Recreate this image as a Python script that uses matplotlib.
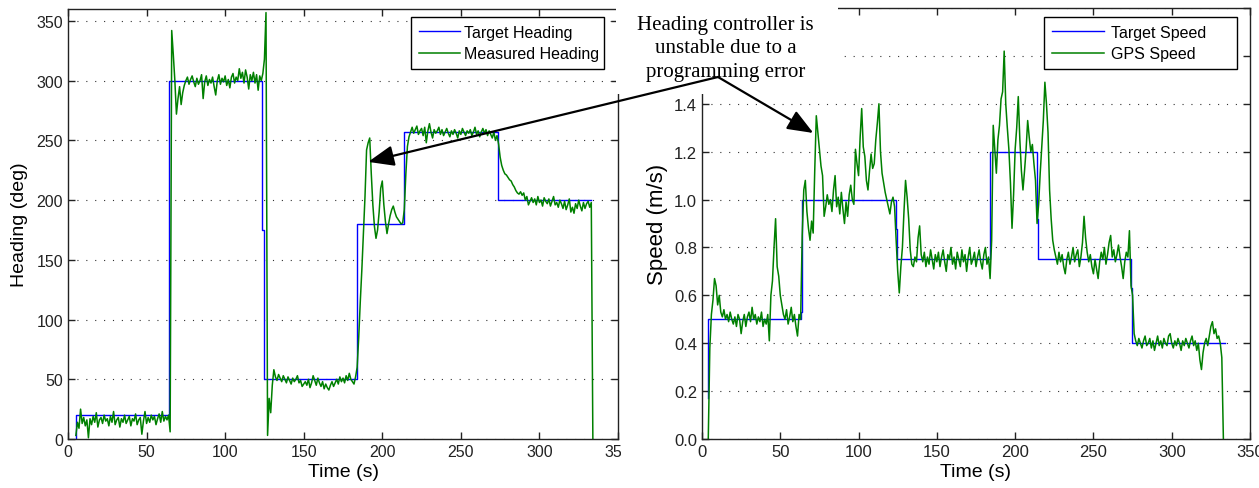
import matplotlib
matplotlib.use('Agg')
import matplotlib.pyplot as plt
import numpy as np
from matplotlib.patches import Rectangle
from matplotlib.text import Annotation

plt.rcParams['font.family'] = 'Liberation Sans'

# heading test: commanded steps (deg) and compass reading sampled once a second
target_heading_t = [4.8, 4.9, 64.3, 123.6, 124.6, 183.7, 214.0, 273.5, 333.0]
target_heading = [0, 20, 300, 175, 50, 180, 257, 200, 200]

heading_t0 = 5  # first compass sample (s)
measured_heading = [
    3, 14, 9, 25, 13, 18, 11, 16, 1, 17,
    12, 19, 14, 22, 10, 16, 18, 13, 20, 15,
    17, 11, 19, 14, 23, 12, 16, 18, 10, 17,
    14, 20, 13, 16, 19, 11, 17, 15, 21, 12,
    16, 18, 4, 15, 23, 13, 18, 14, 20, 16,
    19, 12, 17, 21, 14, 23, 15, 19, 16, 20,
    6, 342, 322, 300, 272, 285, 295, 280, 290, 296,
    300, 303, 297, 301, 304, 299, 295, 302, 297, 300,
    305, 285, 299, 304, 296, 301, 298, 303, 295, 288,
    300, 305, 297, 302, 299, 304, 296, 301, 294, 303,
    306, 298, 303, 300, 310, 302, 307, 298, 309, 303,
    293, 305, 300, 307, 298, 305, 292, 304, 300, 306,
    318, 357, 3, 34, 22, 45, 58, 52, 49, 54,
    51, 48, 53, 50, 47, 52, 49, 46, 51, 48,
    50, 53, 47, 49, 44, 46, 48, 45, 50, 43,
    47, 53, 49, 45, 51, 47, 44, 48, 42, 46,
    43, 41, 45, 48, 44, 47, 50, 46, 52, 48,
    51, 47, 53, 49, 55, 50, 48, 46, 52, 60,
    85, 115, 142, 172, 203, 242, 248, 252, 222, 196,
    178, 168, 175, 190, 210, 216, 196, 182, 172, 180,
    187, 192, 195, 190, 186, 184, 182, 180, 181, 192,
    222, 245, 253, 257, 261, 256, 259, 262, 255, 258,
    260, 254, 261, 248, 258, 264, 257, 252, 259, 256,
    258, 261, 255, 259, 254, 257, 260, 256, 253, 258,
    255, 259, 256, 252, 258, 255, 260, 257, 254, 258,
    256, 259, 254, 257, 261, 255, 258, 253, 257, 260,
    256, 259, 254, 258, 255, 252, 257, 250, 254, 247,
    236, 229, 225, 222, 221, 219, 217, 216, 213, 211,
    208, 206, 205, 207, 204, 206, 200, 203, 196, 199,
    202, 198, 201, 196, 203, 198, 200, 195, 202, 199,
    197, 201, 195, 199, 203, 196, 198, 194, 200, 197,
    193, 199, 192, 196, 201, 190, 194, 189, 197, 193,
    200, 195, 191, 198, 193, 197, 199, 194, 198, 0,
]

# speed test: commanded speed and GPS speed (m/s)
target_speed_t = [4.0, 4.1, 63.5, 64.0, 123.7, 124.3, 184.0, 213.7, 214.3, 274.2, 274.6, 334.0]
target_speed = [0.17, 0.5, 0.53, 1.0, 0.875, 0.75, 1.2, 0.92, 0.75, 0.63, 0.4, 0.4]

speed_t0 = 4  # first GPS sample (s)
gps_speed = [
    0.0, 0.38, 0.52, 0.58, 0.67, 0.64, 0.56, 0.60, 0.53, 0.51,
    0.54, 0.50, 0.52, 0.49, 0.53, 0.50, 0.48, 0.51, 0.47, 0.52,
    0.50, 0.44, 0.49, 0.52, 0.47, 0.51, 0.53, 0.49, 0.55, 0.50,
    0.52, 0.48, 0.51, 0.49, 0.53, 0.47, 0.50, 0.48, 0.52, 0.41,
    0.60, 0.66, 0.80, 0.92, 0.72, 0.68, 0.60, 0.56, 0.52, 0.50,
    0.54, 0.48, 0.51, 0.55, 0.49, 0.52, 0.47, 0.43, 0.52, 0.50,
    0.85, 1.04, 1.08, 0.95, 0.88, 0.83, 0.91, 0.86, 1.12, 1.35,
    1.28, 1.21, 1.14, 1.10, 0.93, 0.97, 1.02, 0.98, 1.00, 0.95,
    1.04, 1.10, 0.97, 1.01, 0.94, 1.03, 0.96, 0.90, 0.99, 0.93,
    1.02, 1.06, 1.00, 0.98, 1.21, 1.15, 1.10, 1.26, 1.38, 1.22,
    1.18, 1.08, 1.04, 1.12, 1.19, 1.13, 1.15, 1.25, 1.32, 1.40,
    1.20, 1.11, 1.07, 1.03, 1.00, 0.97, 0.94, 0.99, 1.01, 0.97,
    0.83, 0.70, 0.61, 0.72, 0.80, 0.95, 1.08, 1.01, 0.92, 0.79,
    0.73, 0.72, 0.76, 0.74, 0.84, 0.89, 0.77, 0.74, 0.78, 0.72,
    0.76, 0.73, 0.79, 0.75, 0.71, 0.77, 0.74, 0.78, 0.72, 0.76,
    0.79, 0.74, 0.70, 0.77, 0.75, 0.80, 0.73, 0.76, 0.71, 0.78,
    0.75, 0.72, 0.79, 0.74, 0.77, 0.70, 0.76, 0.80, 0.73, 0.75,
    0.78, 0.72, 0.76, 0.79, 0.74, 0.71, 0.77, 0.80, 0.73, 0.76,
    0.67, 0.83, 1.31, 1.21, 1.11, 1.25, 1.31, 1.42, 1.45, 1.62,
    1.40, 1.30, 1.21, 1.07, 0.88, 1.02, 1.21, 1.30, 1.43, 1.25,
    1.12, 1.04, 1.12, 1.21, 1.33, 1.26, 1.20, 1.23, 1.15, 1.08,
    0.90, 0.98, 1.11, 1.22, 1.33, 1.49, 1.40, 1.28, 1.04, 0.92,
    0.83, 0.79, 0.76, 0.73, 0.78, 0.74, 0.77, 0.72, 0.69, 0.75,
    0.78, 0.73, 0.76, 0.80, 0.74, 0.77, 0.79, 0.72, 0.76, 0.82,
    0.93, 0.84, 0.78, 0.74, 0.77, 0.72, 0.69, 0.75, 0.71, 0.67,
    0.74, 0.78, 0.75, 0.80, 0.73, 0.77, 0.82, 0.85, 0.76, 0.79,
    0.74, 0.77, 0.81, 0.76, 0.72, 0.67, 0.74, 0.78, 0.76, 0.87,
    0.64, 0.60, 0.44, 0.41, 0.39, 0.42, 0.40, 0.38, 0.41, 0.43,
    0.39, 0.40, 0.42, 0.38, 0.41, 0.37, 0.40, 0.43, 0.39, 0.41,
    0.38, 0.42, 0.40, 0.39, 0.43, 0.44, 0.40, 0.38, 0.41, 0.39,
    0.42, 0.40, 0.37, 0.41, 0.39, 0.42, 0.40, 0.38, 0.41, 0.43,
    0.39, 0.41, 0.37, 0.40, 0.33, 0.29, 0.36, 0.40, 0.42, 0.39,
    0.43, 0.47, 0.49, 0.44, 0.46, 0.42, 0.43, 0.40, 0.34, 0.0,
]

heading_ticks = [0, 50, 100, 150, 200, 250, 300, 350]
speed_ticks = [0.0, 0.2, 0.4, 0.6, 0.8, 1.0, 1.2, 1.4, 1.6, 1.8]
speed_labels = ['0.0', '0.2', '0.4', '0.6', '0.8', '1.0', '1.2', '1.4', '', '']
time_ticks = [0, 50, 100, 150, 200, 250, 300, 350]

BLUE = '#0000ff'
GREEN = '#008000'

W, H = 1259, 489
fig = plt.figure(figsize=(W / 100, H / 100), dpi=100)
ax1 = fig.add_axes([68 / W, 49 / H, 550 / W, 430 / H])
ax2 = fig.add_axes([702 / W, 49 / H, 548 / W, 431 / H])


def matlab_style(ax, labelsize):
    ax.yaxis.grid(True, linestyle=(0, (1, 7)), color='#333333', lw=0.8)
    ax.tick_params(direction='in', top=True, right=True, length=5, width=1,
                   labelsize=labelsize, colors='#222222')
    for sp in ax.spines.values():
        sp.set_linewidth(1.0)
        sp.set_color('#222222')


ax1.plot(target_heading_t, target_heading, color=BLUE, lw=1.0,
         drawstyle='steps-post', label='Target Heading')
ax1.plot(np.arange(len(measured_heading)) + heading_t0, measured_heading,
         color=GREEN, lw=1.1, label='Measured Heading')
ax1.set_xlim(0, 350)
ax1.set_ylim(0, 360)
ax1.set_xticks(time_ticks)
ax1.set_yticks(heading_ticks)
matlab_style(ax1, 11.5)
ax1.set_xlabel('Time (s)', fontsize=14, labelpad=3)
ax1.set_ylabel('Heading (deg)', fontsize=14, labelpad=6)

ax2.plot(target_speed_t, target_speed, color=BLUE, lw=1.0,
         drawstyle='steps-post', label='Target Speed')
ax2.plot(np.arange(len(gps_speed)) + speed_t0, gps_speed,
         color=GREEN, lw=1.1, label='GPS Speed')
ax2.set_xlim(0, 350)
ax2.set_ylim(0, 1.8)
ax2.set_xticks(time_ticks)
ax2.set_yticks(speed_ticks)
ax2.set_yticklabels(speed_labels)
matlab_style(ax2, 12)
ax2.set_xlabel('Time (s)', fontsize=14, labelpad=3)
ax2.set_ylabel('Speed (m/s)', fontsize=16, labelpad=4)

# legend boxes: (left, top, width) in axes fraction, handle length, text gap
legend_boxes = ((ax1, (0.6236, 0.9814, 0.3509), 2.6, 0.25),
                (ax2, (0.6241, 0.9791, 0.3522), 3.25, 0.45))
for ax, (x0, top, w), hlen, hpad in legend_boxes:
    leg = ax.legend(loc='upper left', bbox_to_anchor=(x0, top - 0.2, w, 0.2),
                    mode='expand', fontsize=11.5, fancybox=False,
                    framealpha=1, edgecolor='black', handlelength=hlen,
                    handletextpad=hpad, labelspacing=0.4, borderpad=0.5,
                    borderaxespad=0)
    leg.get_frame().set_linewidth(1.0)

# white patches where the two panels were pasted together
fig.add_artist(Rectangle((616 / W, 1 - 95 / H), 222 / W, 95 / H,
                         transform=fig.transFigure, facecolor='white',
                         edgecolor='none', zorder=10))
fig.add_artist(Rectangle((621 / W, 0), 40 / W, 44 / H,
                         transform=fig.transFigure, facecolor='white',
                         edgecolor='none', zorder=10))

fig.text(725.5 / W, 1 - 49 / H,
         'Heading controller is\nunstable due to a\nprogramming error',
         ha='center', va='center', family='Liberation Serif', fontsize=15,
         linespacing=1.3, zorder=12)

tail = (718 / W, 1 - 78 / H)
arrow_props = dict(arrowstyle='-|>,head_length=0.45,head_width=0.18',
                   mutation_scale=35, color='black', lw=1.6,
                   shrinkA=0, shrinkB=0)
for ax, tip in ((ax1, (191.0, 232)), (ax2, (71.1, 1.278))):
    arr = Annotation('', xy=tip, xycoords=ax.transData, xytext=tail,
                     textcoords='figure fraction', arrowprops=arrow_props)
    arr.set_zorder(12)
    fig.add_artist(arr)

fig.savefig('out.png', dpi=100)
